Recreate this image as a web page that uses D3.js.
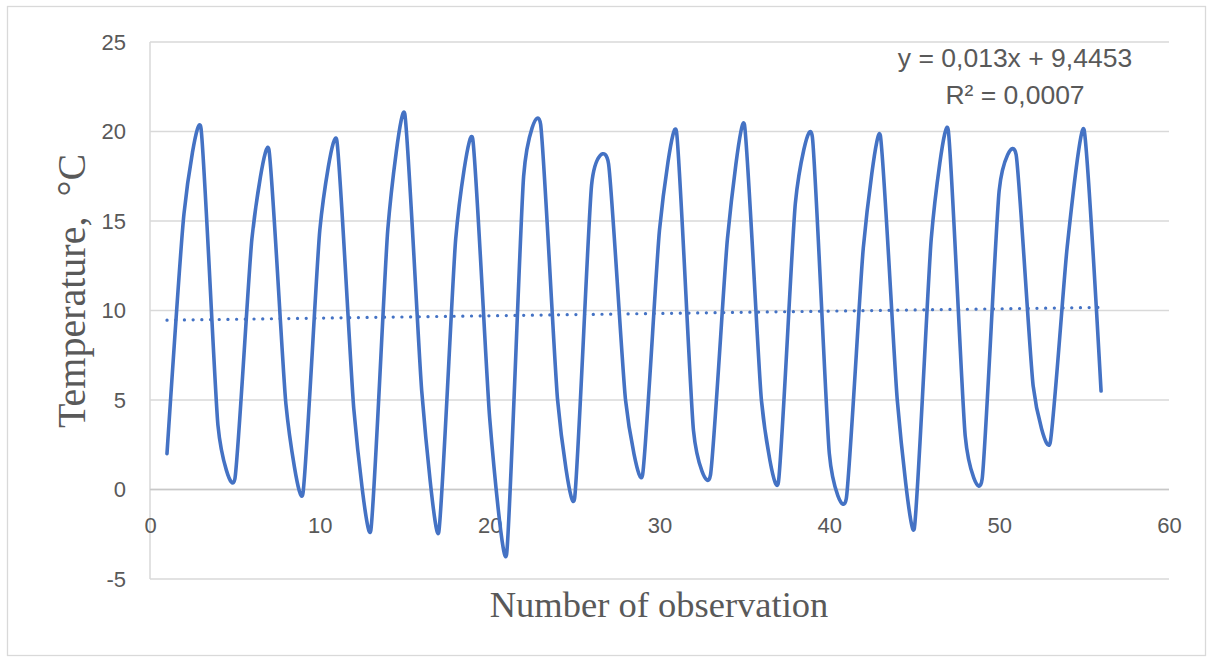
<!DOCTYPE html>
<html>
<head>
<meta charset="utf-8">
<script src="https://cdn.jsdelivr.net/npm/d3@7"></script>
<style>
  html, body { margin: 0; padding: 0; background: #ffffff; }
  svg { display: block; }
</style>
</head>
<body>
<svg id="chart" width="1213" height="661"></svg>
<script>
// ---- data ----
const observations = d3.range(1, 57);
const temperatures = [
  2.0, 15.4, 20.2, 3.6, 0.6, 14.0, 19.0, 4.8, -0.25, 14.5,
  19.5, 4.5, -2.3, 14.5, 21.0, 5.5, -2.4, 14.0, 19.6, 4.0,
  -3.6, 17.5, 20.4, 5.0, -0.5, 17.0, 18.2, 5.0, 0.8, 14.5,
  20.0, 3.3, 0.8, 14.0, 20.4, 5.0, 0.4, 16.0, 19.7, 2.0,
  -0.5, 13.5, 19.8, 5.0, -2.2, 14.0, 20.1, 3.0, 0.6, 16.7,
  18.7, 5.8, 2.6, 13.5, 20.1, 5.5
];
const trendSlope = [0.013];
const trendIntercept = [9.4453];
const trendLabels = ["y = 0,013x + 9,4453", "R² = 0,0007"];
const xTicks = [0, 10, 20, 30, 40, 50, 60];
const yTicks = [-5, 0, 5, 10, 15, 20, 25];
const xTitle = ["Number of observation"];
const yTitle = ["Temperature,  °C"];

// ---- layout ----
const svg = d3.select("#chart");
const plot = { left: 150, right: 1169, top: 42, bottom: 579 };
const lineColor = "#4472C4";
const textColor = "#595959";
const gridColor = "#d9d9d9";

// outer border
svg.append("rect")
  .attr("x", 7.5).attr("y", 6.5)
  .attr("width", 1198).attr("height", 649)
  .attr("fill", "#fff").attr("stroke", gridColor).attr("stroke-width", 1.3);

const x = d3.scaleLinear().domain([0, 60]).range([plot.left, plot.right]);
const y = d3.scaleLinear().domain([-5, 25]).range([plot.bottom, plot.top]);

// horizontal gridlines
svg.append("g")
  .selectAll("line")
  .data(yTicks)
  .join("line")
  .attr("x1", plot.left).attr("x2", plot.right)
  .attr("y1", d => y(d)).attr("y2", d => y(d))
  .attr("stroke", gridColor).attr("stroke-width", 1.5);

// vertical axis line
svg.append("line")
  .attr("x1", x(0)).attr("x2", x(0))
  .attr("y1", y(25)).attr("y2", y(-5))
  .attr("stroke", gridColor).attr("stroke-width", 1.5);

// horizontal axis line at y = 0
svg.append("line")
  .attr("x1", plot.left).attr("x2", plot.right)
  .attr("y1", y(0)).attr("y2", y(0))
  .attr("stroke", "#c8c8c8").attr("stroke-width", 1.5);

// y axis
const yAxis = svg.append("g")
  .attr("transform", `translate(${plot.left},0)`)
  .call(d3.axisLeft(y).tickValues(yTicks).tickSize(0).tickPadding(24).tickFormat(d => String(d)));
yAxis.select(".domain").remove();
yAxis.selectAll("text")
  .attr("fill", textColor)
  .style("font-family", "'Liberation Sans', Arial, sans-serif")
  .style("font-size", "22px");

// x axis (labels under the y = 0 line)
const xAxis = svg.append("g")
  .attr("transform", `translate(0,${y(0)})`)
  .call(d3.axisBottom(x).tickValues(xTicks).tickSize(0).tickPadding(0).tickFormat(d => String(d)));
xAxis.select(".domain").remove();
xAxis.selectAll("text")
  .attr("fill", textColor)
  .attr("y", 43)
  .attr("dy", "0")
  .style("font-family", "'Liberation Sans', Arial, sans-serif")
  .style("font-size", "22px");

// data line
const pts = observations.map((o, i) => [o, temperatures[i]]);
const line = d3.line()
  .x(d => x(d[0]))
  .y(d => y(d[1]))
  .curve(d3.curveCardinal.tension(0.45));
svg.append("path")
  .datum(pts)
  .attr("d", line)
  .attr("fill", "none")
  .attr("stroke", lineColor)
  .attr("stroke-width", 3.6)
  .attr("stroke-linejoin", "round")
  .attr("stroke-linecap", "round");

// trendline (dotted)
const x0 = d3.min(observations), x1 = d3.max(observations);
const trendPts = [x0, x1].map(v => [v, trendSlope[0] * v + trendIntercept[0]]);
svg.append("path")
  .datum(trendPts)
  .attr("d", d3.line().x(d => x(d[0])).y(d => y(d[1])))
  .attr("fill", "none")
  .attr("stroke", lineColor)
  .attr("stroke-width", 3.2)
  .attr("stroke-linecap", "round")
  .attr("stroke-dasharray", "0.1 8.6");

// trendline label
svg.append("g")
  .selectAll("text")
  .data(trendLabels)
  .join("text")
  .attr("x", 1015)
  .attr("y", (d, i) => 67 + i * 37)
  .attr("text-anchor", "middle")
  .attr("fill", textColor)
  .style("font-family", "'Liberation Sans', Arial, sans-serif")
  .style("font-size", "26.5px")
  .text(d => d);

// axis titles
svg.append("text")
  .attr("x", 659)
  .attr("y", 617)
  .attr("text-anchor", "middle")
  .attr("fill", textColor)
  .style("font-family", "'Liberation Serif', 'Times New Roman', serif")
  .style("font-size", "36.5px")
  .text(xTitle[0]);

svg.append("text")
  .attr("transform", "translate(85,291) rotate(-90)")
  .attr("text-anchor", "middle")
  .attr("fill", textColor)
  .style("font-family", "'Liberation Serif', 'Times New Roman', serif")
  .style("font-size", "40px")
  .style("white-space", "pre")
  .text(yTitle[0]);
</script>
</body>
</html>
